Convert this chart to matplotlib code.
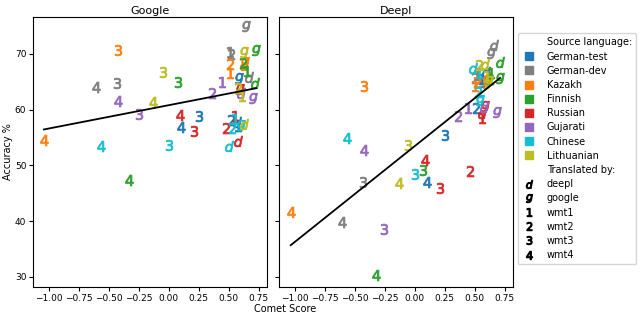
import numpy as np
import matplotlib
matplotlib.use("Agg")
import matplotlib.pyplot as plt
from matplotlib.lines import Line2D

LANGS = ["German-test", "German-dev", "Kazakh", "Finnish", "Russian", "Gujarati", "Chinese", "Lithuanian"]
COLORS = ["tab:blue", "tab:gray", "tab:orange", "tab:green", "tab:red", "tab:purple", "tab:cyan", "tab:olive"]
SYSTEMS = ["d", "g", "1", "2", "3", "4"]
SYSTEM_NAMES = ["deepl", "google", "wmt1", "wmt2", "wmt3", "wmt4"]

# comet score / accuracy per language, systems in order d, g, 1, 2, 3, 4
google_x = [
    [0.57, 0.59, 0.58, 0.52, 0.256, 0.103],
    [0.672, 0.645, 0.514, 0.52, -0.433, -0.605],
    [0.63, 0.64, 0.514, 0.514, -0.425, -1.04],
    [0.72, 0.728, 0.653, 0.617, 0.075, -0.327],
    [0.575, 0.595, 0.55, 0.478, 0.214, 0.095],
    [0.60, 0.70, 0.445, 0.36, -0.25, -0.425],
    [0.50, 0.60, 0.55, 0.53, 0.006, -0.563],
    [0.63, 0.63, 0.61, 0.575, -0.05, -0.127],
]
google_y = [
    [57.8, 65.6, 57.0, 58.2, 58.8, 56.9],
    [65.8, 75.0, 70.3, 69.9, 64.7, 64.0],
    [68.0, 68.5, 66.6, 68.2, 70.7, 54.6],
    [64.7, 70.7, 67.0, 68.3, 65.0, 47.4],
    [54.4, 63.7, 58.9, 56.7, 56.2, 59.1],
    [63.0, 62.1, 65.0, 62.9, 59.2, 61.6],
    [53.5, 57.2, 58.3, 56.7, 53.6, 53.4],
    [57.4, 70.3, 62.5, 63.8, 66.8, 61.3],
]
deepl_x = [
    [0.594, 0.569, 0.56, 0.511, 0.25, 0.099],
    [0.665, 0.64, 0.52, 0.506, -0.434, -0.607],
    [0.60, 0.60, 0.50, 0.52, -0.42, -1.033],
    [0.707, 0.712, 0.638, 0.63, 0.072, -0.324],
    [0.56, 0.589, 0.56, 0.465, 0.21, 0.088],
    [0.58, 0.69, 0.443, 0.36, -0.256, -0.42],
    [0.484, 0.547, 0.54, 0.525, 0.006, -0.566],
    [0.589, 0.62, 0.60, 0.533, -0.052, -0.134],
]
deepl_y = [
    [66.7, 64.9, 65.5, 60.3, 55.5, 47.1],
    [71.6, 70.1, 66.3, 65.6, 47.0, 39.8],
    [65.8, 64.8, 64.3, 65.0, 64.3, 41.7],
    [68.5, 65.6, 66.5, 65.5, 49.1, 30.4],
    [59.4, 60.7, 58.5, 49.0, 46.0, 51.0],
    [60.5, 59.5, 60.3, 58.8, 38.6, 52.8],
    [67.4, 61.7, 66.6, 63.2, 48.4, 55.0],
    [68.2, 65.2, 66.0, 68.0, 53.7, 46.8],
]


def marker(s):
    return f"${s}$"


fig, axes = plt.subplots(1, 2, figsize=(6.4, 3.17), dpi=100, sharex=True, sharey=True)
fig.subplots_adjust(left=0.052, right=0.801, bottom=0.095, top=0.946, wspace=0.054)

for ax, title, xs, ys in [(axes[0], "Google", google_x, google_y), (axes[1], "Deepl", deepl_x, deepl_y)]:
    for li, col in enumerate(COLORS):
        for si, s in enumerate(SYSTEMS):
            ax.scatter(xs[li][si], ys[li][si], marker=marker(s), color=col, s=60, linewidths=0.6)
    xa = np.array(xs).ravel()
    ya = np.array(ys).ravel()
    k, b = np.polyfit(xa, ya, 1)
    xl = np.array([xa.min(), xa.max()])
    ax.plot(xl, k * xl + b, color="black", lw=1.3)
    ax.set_title(title, fontsize=8, pad=2)
    ax.tick_params(labelsize=6.5, length=3, pad=2)

axes[0].set_xticks([-1.0, -0.75, -0.5, -0.25, 0.0, 0.25, 0.5, 0.75])
axes[0].set_ylim(28.2, 76.6)
axes[0].set_ylabel("Accuracy %", fontsize=7, labelpad=1)
fig.text(285 / 640, 0.008, "Comet Score", ha="center", va="bottom", fontsize=7)

handles = [Line2D([], [], linestyle="none")]
labels = ["Source language:"]
for lang, col in zip(LANGS, COLORS):
    handles.append(Line2D([], [], linestyle="none", marker="s", markersize=6, color=col))
    labels.append(lang)
handles.append(Line2D([], [], linestyle="none"))
labels.append("Translated by:")
for s, name in zip(SYSTEMS, SYSTEM_NAMES):
    handles.append(Line2D([], [], linestyle="none", marker=marker(s), markersize=6,
                          color="black", markeredgewidth=0.8))
    labels.append(name)

fig.legend(handles, labels, loc="upper left", bbox_to_anchor=(518 / 640, 1 - 33 / 317),
           fontsize=7, handlelength=1.4, handletextpad=1.1, borderpad=0.45, labelspacing=0.43,
           borderaxespad=0)

plt.savefig("out.png", dpi=100)
